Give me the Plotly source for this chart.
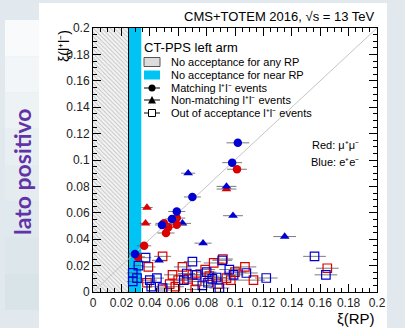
import plotly.graph_objects as go

# ---------------- data ----------------
match_red_x = [0.1014, 0.0514, 0.050, 0.053, 0.059, 0.059, 0.036, 0.0317]
match_red_y = [0.093, 0.0447, 0.052, 0.049, 0.056, 0.051, 0.035, 0.0266]
match_red_ex = [0.007, 0.006, 0.006, 0.006, 0.006, 0.006, 0.005, 0.005]

match_blue_x = [0.102, 0.098, 0.070, 0.059, 0.0486, 0.0556, 0.0296]
match_blue_y = [0.113, 0.098, 0.072, 0.061, 0.0508, 0.0553, 0.0288]
match_blue_ex = [0.008, 0.007, 0.006, 0.006, 0.005, 0.005, 0.005]

nonm_red_x = [0.038, 0.037, 0.094]
nonm_red_y = [0.064, 0.052, 0.078]
nonm_red_ex = [0.004, 0.004, 0.007]

nonm_blue_x = [0.067, 0.094, 0.063, 0.0775, 0.0986, 0.0465, 0.135]
nonm_blue_y = [0.090, 0.080, 0.052, 0.037, 0.0578, 0.024, 0.042]
nonm_blue_ex = [0.005, 0.007, 0.006, 0.006, 0.007, 0.005, 0.008]

out_red_x = [0.039, 0.049, 0.056, 0.063, 0.058, 0.049, 0.067, 0.072, 0.079, 0.085,
             0.0915, 0.094, 0.100, 0.107, 0.113, 0.038, 0.073, 0.165, 0.060, 0.082,
             0.088, 0.070, 0.097, 0.054]
out_red_y = [0.019, 0.027, 0.013, 0.019, 0.004, 0.0015, 0.010, 0.002, 0.017, 0.022,
             0.025, 0.0105, 0.015, 0.019, 0.009, 0.007, 0.008, 0.018, 0.009, 0.012,
             0.006, 0.013, 0.009, 0.006]
out_red_ex = [0.005, 0.006, 0.006, 0.006, 0.006, 0.005, 0.007, 0.006, 0.007, 0.007,
              0.007, 0.007, 0.008, 0.008, 0.008, 0.005, 0.006, 0.008, 0.006, 0.007,
              0.007, 0.006, 0.008, 0.006]

out_blue_x = [0.037, 0.028, 0.032, 0.028, 0.031, 0.040, 0.045, 0.049, 0.070, 0.064,
              0.073, 0.080, 0.087, 0.091, 0.096, 0.099, 0.089, 0.081, 0.041, 0.156,
              0.164, 0.122, 0.108, 0.084, 0.077, 0.066]
out_blue_y = [0.026, 0.0145, 0.020, 0.008, 0.0105, 0.009, 0.0105, 0.003, 0.023, 0.009,
              0.013, 0.015, 0.011, 0.024, 0.017, 0.013, 0.003, 0.007, 0.004, 0.027,
              0.013, 0.0106, 0.0144, 0.010, 0.005, 0.014]
out_blue_ex = [0.004, 0.004, 0.004, 0.004, 0.004, 0.005, 0.005, 0.005, 0.006, 0.006,
               0.006, 0.007, 0.007, 0.007, 0.007, 0.007, 0.007, 0.006, 0.005, 0.008,
               0.008, 0.008, 0.008, 0.007, 0.006, 0.006]

no_acc_any = [0.0, 0.025]
no_acc_near = [0.025, 0.034]

xticks = [0, 0.02, 0.04, 0.06, 0.08, 0.1, 0.12, 0.14, 0.16, 0.18, 0.2]
xticklabels = ["0", "0.02", "0.04", "0.06", "0.08", "0.1", "0.12", "0.14", "0.16", "0.18", "0.2"]

RED = "#dc0000"
BLUE = "#0000d2"
CYAN = "#00c4f4"
ERRC = "rgba(90,90,90,0.8)"

# ---------------- figure ----------------
W, H = 405, 328
L, R, T, B = 93, 377, 28, 292


def px(p):
    return (p - L) / (R - L)


def py(q):
    return (B - q) / (B - T)


fig = go.Figure()

# acceptance regions
fig.add_trace(go.Scatter(
    x=[no_acc_any[0], no_acc_any[1], no_acc_any[1], no_acc_any[0], no_acc_any[0]],
    y=[0, 0, 0.2, 0.2, 0], fill="toself", mode="lines",
    line=dict(width=0, color="rgba(0,0,0,0)"), fillcolor="white",
    fillpattern=dict(shape="\\", fgcolor="#8f8f8f", bgcolor="#f4f4f4", size=3, solidity=0.3),
    showlegend=False, hoverinfo="skip"))
fig.add_trace(go.Scatter(
    x=[no_acc_near[0], no_acc_near[1], no_acc_near[1], no_acc_near[0], no_acc_near[0]],
    y=[0, 0, 0.2, 0.2, 0], fill="toself", mode="lines",
    line=dict(width=0, color="rgba(0,0,0,0)"), fillcolor=CYAN,
    showlegend=False, hoverinfo="skip"))
fig.add_trace(go.Scatter(
    x=[no_acc_near[0], no_acc_near[0]], y=[0, 0.2], mode="lines",
    line=dict(width=1, color="black"), showlegend=False, hoverinfo="skip"))
# diagonal
fig.add_trace(go.Scatter(
    x=[0, 0.2], y=[0, 0.2], mode="lines",
    line=dict(width=1, color="#c4c4c4"), showlegend=False, hoverinfo="skip"))


def add(xs, ys, ex, color, symbol, open_=False):
    fig.add_trace(go.Scatter(
        x=xs, y=ys, mode="markers",
        error_x=dict(type="data", array=ex, visible=True, color=ERRC, thickness=1, width=0),
        marker=dict(symbol=symbol, size=8.5, color=color,
                    line=dict(color=color, width=1.2 if open_ else 0)),
        showlegend=False, hoverinfo="skip"))


add(out_red_x, out_red_y, out_red_ex, RED, "square-open", True)
add(out_blue_x, out_blue_y, out_blue_ex, BLUE, "square-open", True)
add(nonm_red_x, nonm_red_y, nonm_red_ex, RED, "triangle-up")
add(nonm_blue_x, nonm_blue_y, nonm_blue_ex, BLUE, "triangle-up")
add(match_red_x, match_red_y, match_red_ex, RED, "circle")
add(match_blue_x, match_blue_y, match_blue_ex, BLUE, "circle")

shapes = []
# background panels
shapes.append(dict(type="rect", xref="paper", yref="paper", x0=px(39), x1=px(387),
                   y0=py(3), y1=py(328), fillcolor="white", line=dict(width=0), layer="below"))
bands = ["#f8fafb", "#f2f6f8", "#edf2f5", "#e8eff2", "#e4ecf0", "#e0e9ee", "#dce6eb", "#d9e4e9"]
nb = len(bands)
for i, c in enumerate(bands):
    q0 = 20 + i * (310 - 20) / nb
    q1 = 20 + (i + 1) * (310 - 20) / nb
    shapes.append(dict(type="rect", xref="paper", yref="paper", x0=px(5), x1=px(39),
                       y0=py(q0), y1=py(q1), fillcolor=c, line=dict(width=0), layer="below"))

# legend glyphs
lx0, lx1 = 144, 160
rows = [62, 75, 88, 100, 113]
shapes.append(dict(type="rect", xref="paper", yref="paper", x0=px(lx0), x1=px(lx1),
                   y0=py(rows[0] - 4.5), y1=py(rows[0] + 4.5), fillcolor="#dcdcdc",
                   line=dict(color="#555", width=1)))
shapes.append(dict(type="rect", xref="paper", yref="paper", x0=px(lx0), x1=px(lx1),
                   y0=py(rows[1] - 4.5), y1=py(rows[1] + 4.5), fillcolor=CYAN,
                   line=dict(width=0)))
for r in rows[2:]:
    shapes.append(dict(type="line", xref="paper", yref="paper", x0=px(lx0), x1=px(lx1),
                       y0=py(r), y1=py(r), line=dict(color="black", width=1)))
cx = (lx0 + lx1) / 2
shapes.append(dict(type="circle", xref="paper", yref="paper", x0=px(cx - 3.5), x1=px(cx + 3.5),
                   y0=py(rows[2] - 3.5), y1=py(rows[2] + 3.5), fillcolor="black",
                   line=dict(width=0)))
shapes.append(dict(type="path", xref="paper", yref="paper",
                   path=f"M {px(cx-4)} {py(rows[3]+3.5)} L {px(cx+4)} {py(rows[3]+3.5)} L {px(cx)} {py(rows[3]-4)} Z",
                   fillcolor="black", line=dict(width=0)))
shapes.append(dict(type="rect", xref="paper", yref="paper", x0=px(cx - 3.5), x1=px(cx + 3.5),
                   y0=py(rows[4] - 3.5), y1=py(rows[4] + 3.5), fillcolor="white",
                   line=dict(color="black", width=1)))

FONT = "Liberation Sans, Arial, sans-serif"
ann = []
ann.append(dict(xref="paper", yref="paper", x=1.0, y=py(17), xanchor="right", yanchor="middle",
                text="CMS+TOTEM 2016, √s = 13 TeV", showarrow=False,
                font=dict(family=FONT, size=13, color="black")))
ann.append(dict(xref="paper", yref="paper", x=px(142), y=py(47), xanchor="left", yanchor="middle",
                text="CT-PPS left arm", showarrow=False,
                font=dict(family=FONT, size=13, color="black")))
labels = ["No acceptance for any RP", "No acceptance for near RP", "Matching l⁺l⁻ events",
          "Non-matching l⁺l⁻ events", "Out of acceptance l⁺l⁻ events"]
for r, t in zip(rows, labels):
    ann.append(dict(xref="paper", yref="paper", x=px(169), y=py(r), xanchor="left", yanchor="middle",
                    text=t, showarrow=False, font=dict(family=FONT, size=11, color="black")))
ann.append(dict(xref="paper", yref="paper", x=px(361), y=py(145), xanchor="right", yanchor="middle",
                text="Red: μ⁺μ⁻", showarrow=False,
                font=dict(family=FONT, size=11, color="black")))
ann.append(dict(xref="paper", yref="paper", x=px(361), y=py(162), xanchor="right", yanchor="middle",
                text="Blue: e⁺e⁻", showarrow=False,
                font=dict(family=FONT, size=11, color="black")))
ann.append(dict(xref="paper", yref="paper", x=px(64), y=1.0, xanchor="center", yanchor="top",
                text="ξ(l⁺l⁻)", textangle=-90, showarrow=False,
                font=dict(family=FONT, size=14, color="black")))
ann.append(dict(xref="paper", yref="paper", x=1.0, y=py(318), xanchor="right", yanchor="middle",
                text="ξ(RP)", showarrow=False, font=dict(family=FONT, size=15, color="black")))
ann.append(dict(xref="paper", yref="paper", x=px(22), y=py(172), xanchor="center", yanchor="middle",
                text="<b>lato positivo</b>", textangle=-90, showarrow=False,
                font=dict(family="Lato, Open Sans, sans-serif", size=23, color="#6233a6")))

axis_common = dict(
    showgrid=False, zeroline=False, showline=True, linecolor="black", linewidth=1,
    mirror="allticks", ticks="inside", ticklen=8, tickcolor="black", tickwidth=1,
    tickfont=dict(family=FONT, size=12, color="#222"),
    minor=dict(ticks="inside", ticklen=4, dtick=0.005, tickcolor="black", showgrid=False),
)

fig.update_layout(
    width=W, height=H,
    margin=dict(l=L, r=W - R, t=T, b=H - B, pad=0),
    paper_bgcolor="#e2e9ee", plot_bgcolor="white",
    xaxis=dict(range=[0, 0.2], tickvals=xticks, ticktext=xticklabels, ticklabelstandoff=0, **axis_common),
    yaxis=dict(range=[0, 0.2], tickvals=xticks, ticktext=xticklabels, **axis_common),
    shapes=shapes, annotations=ann, showlegend=False,
)

fig.write_html("out.html")
